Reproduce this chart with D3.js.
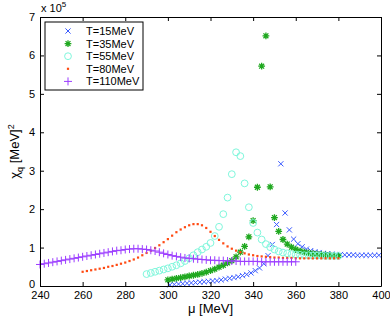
<!DOCTYPE html>
<html lang="en">
<head>
    <meta charset="UTF-8">
    <title>chi_q vs mu</title>
    <script src="https://d3js.org/d3.v7.min.js"></script>
    <style>
        body { margin: 0; background: #fff; }
        svg text { font-family: "Liberation Sans", Arial, sans-serif; fill: #000; }
        .axis path, .axis line { stroke: #000; stroke-width: 1; }
        .axis text { font-size: 11px; }
    </style>
</head>
<body>
<div id="chart"></div>
<script>

    // mu [MeV] and chi_q [x 1e5 MeV^2] for each temperature
    var mu15 = [301,303,305,307,309,311,313,315,317,319,321,323,325,327,329,331,333,335,337,339,341,343,345,347,349,351,353,355,357,359,361,363,365,367,369,371,373,375,377,379,381,383,385,387,389,391,393,395,397,399];
    var chi15 = [0.03,0.04,0.05,0.06,0.07,0.08,0.09,0.10,0.11,0.12,0.13,0.14,0.16,0.18,0.20,0.22,0.24,0.27,0.30,0.34,0.40,0.47,0.58,0.79,1.08,1.60,3.18,1.90,1.46,1.22,1.10,1.02,0.96,0.92,0.89,0.87,0.85,0.84,0.83,0.82,0.82,0.81,0.81,0.81,0.80,0.80,0.80,0.80,0.80,0.80];

    var mu35 = [300,302,304,306,308,310,312,314,316,318,320,322,324,326,328,330,332,334,336,338,340,342,344,346,348,350,352,354,356,358,360,362,364,366,368,370,372,374,376,378,380];
    var chi35 = [0.16,0.18,0.20,0.22,0.24,0.26,0.28,0.30,0.33,0.36,0.40,0.44,0.49,0.54,0.60,0.66,0.76,0.88,1.03,1.28,1.70,2.57,5.72,6.51,2.58,1.78,1.42,1.21,1.09,1.01,0.95,0.91,0.88,0.86,0.84,0.83,0.82,0.81,0.80,0.79,0.79];

    var mu55 = [290,292,294,296,298,300,302,304,306,308,310,312,314,316,318,320,322,324,326,328,330,332,334,336,338,340,342,344,346,348,350,352,354,356,358,360,362,364,366,368,370,372,374,376,378,380];
    var chi55 = [0.31,0.34,0.37,0.40,0.43,0.46,0.50,0.54,0.59,0.65,0.72,0.80,0.88,0.95,1.02,1.12,1.30,1.54,1.87,2.30,2.91,3.48,3.38,2.67,2.05,1.64,1.39,1.21,1.09,1.01,0.95,0.90,0.87,0.85,0.83,0.82,0.81,0.80,0.80,0.79,0.79,0.79,0.78,0.78,0.78,0.78];

    var mu80 = [260,262,264,266,268,270,272,274,276,278,280,282,284,286,288,290,292,294,296,298,300,302,304,306,308,310,312,314,316,318,320,322,324,326,328,330,332,334,336,338,340,342,344,346,348,350,352,354,356,358,360,362,364,366,368,370,372,374,376,378,380];
    var chi80 = [0.37,0.39,0.41,0.43,0.45,0.47,0.50,0.52,0.55,0.58,0.61,0.65,0.69,0.74,0.80,0.86,0.92,0.99,1.06,1.14,1.22,1.31,1.40,1.47,1.53,1.58,1.61,1.61,1.58,1.51,1.41,1.30,1.20,1.11,1.03,0.97,0.92,0.88,0.85,0.82,0.80,0.78,0.77,0.76,0.75,0.74,0.74,0.73,0.73,0.73,0.72,0.72,0.72,0.72,0.72,0.72,0.72,0.72,0.72,0.72,0.72];

    var mu110 = [240,242,244,246,248,250,252,254,256,258,260,262,264,266,268,270,272,274,276,278,280,282,284,286,288,290,292,294,296,298,300,302,304,306,308,310,312,314,316,318,320,322,324,326,328,330,332,334,336,338,340,342,344,346,348,350,352,354,356,358,360];
    var chi110 = [0.56,0.58,0.60,0.62,0.64,0.66,0.68,0.70,0.72,0.74,0.76,0.78,0.80,0.82,0.84,0.86,0.88,0.90,0.92,0.93,0.95,0.96,0.97,0.97,0.96,0.95,0.93,0.91,0.88,0.85,0.82,0.79,0.77,0.75,0.73,0.72,0.71,0.70,0.69,0.68,0.67,0.67,0.66,0.66,0.65,0.65,0.65,0.64,0.64,0.64,0.64,0.64,0.63,0.63,0.63,0.63,0.63,0.63,0.63,0.63,0.63];

    var labels = ["T=15MeV", "T=35MeV", "T=55MeV", "T=80MeV", "T=110MeV"];
    var xTicks = [240,260,280,300,320,340,360,380,400];
    var yTicks = [0,1,2,3,4,5,6,7];

    var margin = {top: 17, right: 9, bottom: 34, left: 40},
        width = 390 - margin.left - margin.right,
        height = 320 - margin.top - margin.bottom;

    var svg = d3.select("#chart")
        .append("svg")
        .attr("width", 390)
        .attr("height", 320)
        .append("g")
        .attr("transform", "translate(" + margin.left + "," + margin.top + ")");

    var x = d3.scaleLinear().domain([240, 400]).range([0, width]);
    var y = d3.scaleLinear().domain([0, 7]).range([height, 0]);

    // marker drawers
    var markers = {
        cross: function(g, s) {
            g.append("path").attr("d", "M" + (-s) + "," + (-s) + "L" + s + "," + s + "M" + (-s) + "," + s + "L" + s + "," + (-s));
        },
        star: function(g, s) {
            var d = s * 0.72;
            g.append("path").attr("d", "M0," + (-s) + "V" + s + "M" + (-s) + ",0H" + s +
                "M" + (-d) + "," + (-d) + "L" + d + "," + d + "M" + (-d) + "," + d + "L" + d + "," + (-d));
        },
        circle: function(g, s) {
            g.append("circle").attr("r", s);
        },
        dot: function(g, s) {
            g.append("rect").attr("x", -s).attr("y", -s).attr("width", 2 * s).attr("height", 2 * s);
        },
        plus: function(g, s) {
            g.append("path").attr("d", "M0," + (-s) + "V" + s + "M" + (-s) + ",0H" + s);
        }
    };

    var series = [
        {mu: mu15, chi: chi15, type: "cross", size: 2.6, color: "#3b5bff", fill: "none", sw: 1},
        {mu: mu35, chi: chi35, type: "star", size: 3.4, color: "#1fa81f", fill: "none", sw: 1.3},
        {mu: mu55, chi: chi55, type: "circle", size: 3.4, color: "#7ff7dc", fill: "none", sw: 1},
        {mu: mu80, chi: chi80, type: "dot", size: 1.1, color: "#ff4a12", fill: "#ff4a12", sw: 0},
        {mu: mu110, chi: chi110, type: "plus", size: 4, color: "#9b3cff", fill: "none", sw: 1}
    ];

    var plot = svg.append("g");
    series.forEach(function(s) {
        var pts = s.mu.map(function(m, i) { return [m, s.chi[i]]; });
        plot.append("g")
            .selectAll("g")
            .data(pts)
            .enter()
            .append("g")
            .attr("transform", function(d) { return "translate(" + x(d[0]) + "," + y(d[1]) + ")"; })
            .attr("stroke", s.color)
            .attr("stroke-width", s.sw)
            .attr("fill", s.fill)
            .each(function() { markers[s.type](d3.select(this), s.size); });
    });

    // axes, ticks pointing inward like matlab
    svg.append("g").attr("class", "axis")
        .attr("transform", "translate(0," + height + ")")
        .call(d3.axisBottom(x).tickValues(xTicks).tickSize(-4).tickPadding(5).tickSizeOuter(0));
    svg.append("g").attr("class", "axis")
        .call(d3.axisTop(x).tickValues(xTicks).tickSize(-4).tickFormat("").tickSizeOuter(0));
    var yAxis = svg.append("g").attr("class", "axis")
        .call(d3.axisLeft(y).tickValues(yTicks).tickFormat(d3.format("d")).tickSize(-4).tickPadding(5).tickSizeOuter(0));
    // lift the "0" a little so it clears the 240 below it
    yAxis.selectAll(".tick text").filter(function(d) { return d === 0; }).attr("dy", "0.1em");
    svg.append("g").attr("class", "axis")
        .attr("transform", "translate(" + width + ",0)")
        .call(d3.axisRight(y).tickValues(yTicks).tickSize(-4).tickFormat("").tickSizeOuter(0));

    // exponent
    var ex = svg.append("text").attr("x", 1).attr("y", -5).style("font-size", "11px");
    ex.append("tspan").text("x 10");
    ex.append("tspan").attr("dy", -5).style("font-size", "8px").text("5");

    // axis labels
    svg.append("text")
        .attr("x", width / 2)
        .attr("y", height + 27)
        .attr("text-anchor", "middle")
        .style("font-size", "13px")
        .text("μ [MeV]");

    var yl = svg.append("text")
        .attr("transform", "translate(-21," + (height / 2) + ") rotate(-90)")
        .attr("text-anchor", "middle")
        .style("font-size", "13px");
    yl.append("tspan").text("χ");
    yl.append("tspan").attr("dy", 4).style("font-size", "9px").text("q");
    yl.append("tspan").attr("dy", -4).text(" [MeV]");
    yl.append("tspan").attr("dy", -5).style("font-size", "9px").text("2");

    // legend
    var lg = svg.append("g").attr("transform", "translate(5,5)");
    lg.append("rect")
        .attr("width", 98).attr("height", 68)
        .attr("fill", "#fff").attr("stroke", "#000").attr("stroke-width", 1);
    series.forEach(function(s, i) {
        var row = lg.append("g").attr("transform", "translate(0," + (9 + i * 12.6) + ")");
        var m = row.append("g")
            .attr("transform", "translate(23,0)")
            .attr("stroke", s.color)
            .attr("stroke-width", s.sw)
            .attr("fill", s.fill);
        markers[s.type](m, s.size);
        row.append("text")
            .attr("x", 41).attr("y", 4)
            .style("font-size", "11px")
            .text(labels[i]);
    });

</script>
</body>
</html>
